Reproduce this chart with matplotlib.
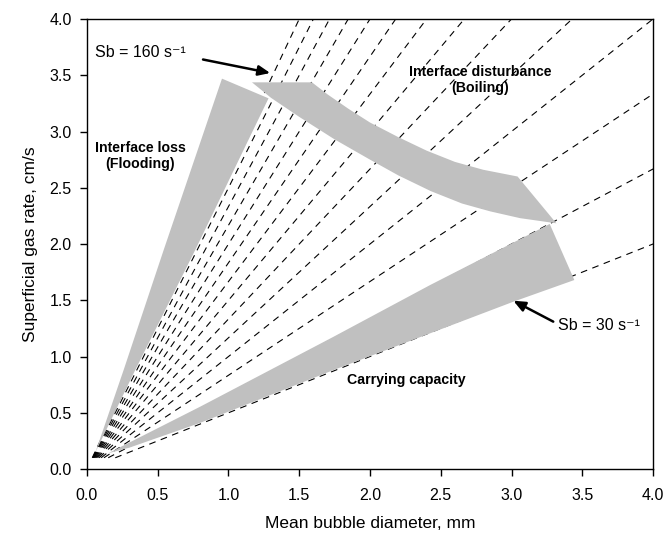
import numpy as np
import matplotlib
matplotlib.use('Agg')
import matplotlib.pyplot as plt

plt.rcParams['font.family'] = ['Liberation Sans', 'DejaVu Sans']

# Lineas de flujo de superficie de burbuja Sb (s^-1)
sb_valores = [30, 40, 50, 60, 70, 80, 90, 100, 110, 120, 130, 140, 150, 160]
jg_inicio = 0.1  # cm/s

# Zona gris: perdida de interfase (inundacion)
flood_x = [0.06, 0.259, 0.542, 0.954, 1.283, 0.765, 0.341]
flood_y = [0.15, 0.88, 1.947, 3.47, 3.295, 1.947, 0.88]

# Zona gris: perturbacion de interfase (ebullicion)
boil_x = [1.166, 1.59, 1.70, 1.85, 2.00, 2.20, 2.40, 2.60, 2.80, 3.043, 3.317,
          3.06, 2.85, 2.65, 2.43, 2.20, 2.00, 1.75, 1.50, 1.30]
boil_y = [3.437, 3.437, 3.33, 3.20, 3.08, 2.95, 2.83, 2.73, 2.66, 2.60, 2.184,
          2.23, 2.29, 2.36, 2.47, 2.61, 2.75, 2.93, 3.13, 3.30]

# Zona gris: capacidad de carga
carry_x = [0.15, 0.80, 1.743, 2.426, 3.27, 3.444, 3.013, 1.743, 0.80, 0.30]
carry_y = [0.14, 0.554, 1.176, 1.636, 2.178, 1.68, 1.487, 0.88, 0.41, 0.19]

ticks = [0.0, 0.5, 1.0, 1.5, 2.0, 2.5, 3.0, 3.5, 4.0]

fig = plt.figure(figsize=(6.66, 5.34), dpi=100)
ax = fig.add_axes([0.1306, 0.1217, 0.8499, 0.8427])

for sb in sb_valores:
    d = np.array([60 * jg_inicio / sb, 10.0])
    jg = sb * d / 60.0
    ax.plot(d, jg, color='black', lw=0.8, dashes=(6, 5), zorder=1)

gris = '#c0c0c0'
ax.fill(flood_x, flood_y, color=gris, lw=0, zorder=2)
ax.fill(boil_x, boil_y, color=gris, lw=0, zorder=2)
ax.fill(carry_x, carry_y, color=gris, lw=0, zorder=2)

# Etiquetas de regiones
ax.text(0.377, 2.78, 'Interface loss\n(Flooding)', fontsize=10.2, fontweight='bold',
        ha='center', va='center', zorder=0.5)
ax.text(2.777, 3.46, 'Interface disturbance\n(Boiling)', fontsize=10.2, fontweight='bold',
        ha='center', va='center', zorder=0.5)
ax.text(2.26, 0.79, 'Carrying capacity', fontsize=10.2, fontweight='bold',
        ha='center', va='center', zorder=0.5)

# Flechas Sb
flecha = dict(arrowstyle='-|>,head_length=0.7,head_width=0.3', lw=1.8, color='black',
              shrinkA=0, shrinkB=0)
ax.annotate('', xy=(1.295, 3.52), xytext=(0.82, 3.64), arrowprops=flecha, zorder=3)
ax.text(0.06, 3.70, 'Sb = 160 s\u207b\u00b9', fontsize=11.5, ha='left', va='center')
ax.annotate('', xy=(3.013, 1.496), xytext=(3.295, 1.31), arrowprops=flecha, zorder=3)
ax.text(3.33, 1.275, 'Sb = 30 s\u207b\u00b9', fontsize=11.5, ha='left', va='center')

ax.set_xlim(0, 4)
ax.set_ylim(0, 4)
ax.set_xticks(ticks)
ax.set_yticks(ticks)
ax.set_xticklabels([f'{t:.1f}' for t in ticks])
ax.set_yticklabels([f'{t:.1f}' for t in ticks])
ax.tick_params(axis='both', direction='out', length=5, width=1, labelsize=11.5)
ax.tick_params(axis='x', pad=9)
ax.tick_params(axis='y', pad=6)
for s in ax.spines.values():
    s.set_linewidth(1.0)

ax.set_xlabel('Mean bubble diameter, mm', fontsize=12.5, labelpad=9)
ax.set_ylabel('Superficial gas rate, cm/s', fontsize=12.5, labelpad=8)

fig.savefig('out.png', dpi=100)
plt.close(fig)
